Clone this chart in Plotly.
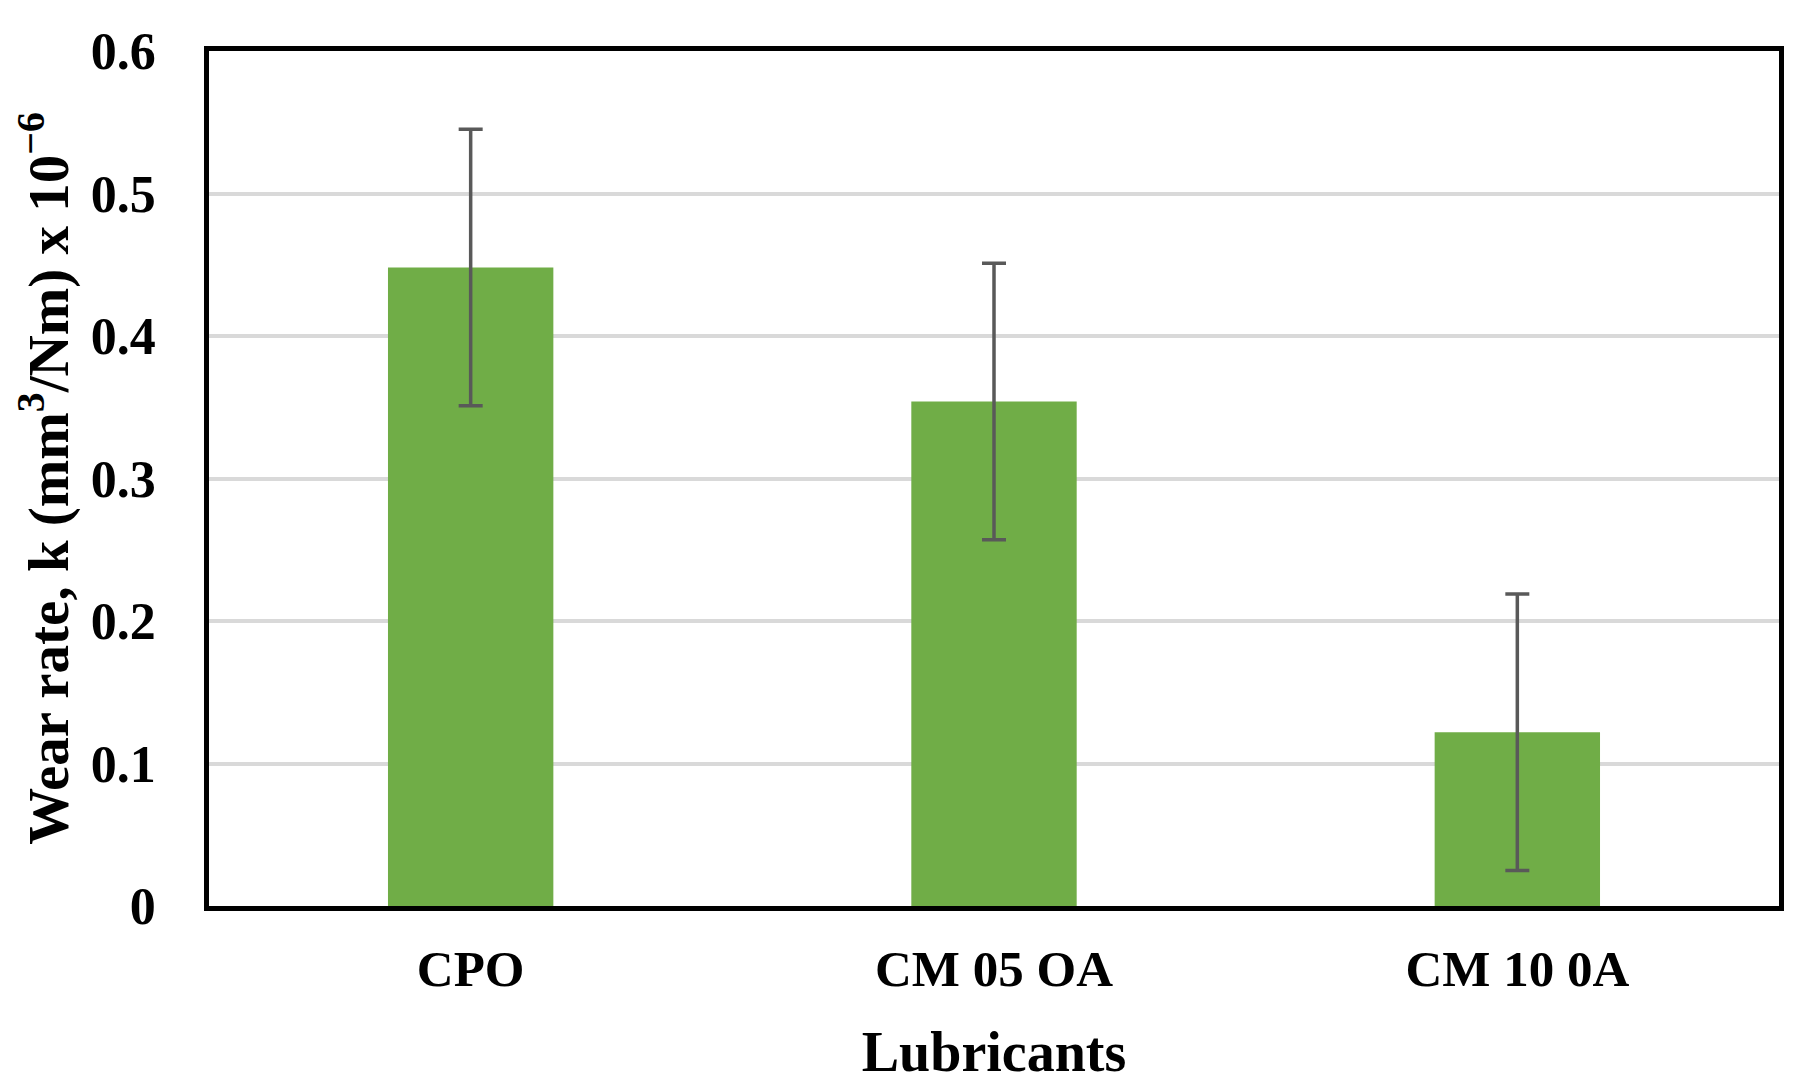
import plotly.graph_objects as go

categories = ["CPO", "CM 05 OA", "CM 10 0A"]
wear_rate = [0.448, 0.354, 0.122]
error = [0.097, 0.097, 0.097]
y_ticks = [0, 0.1, 0.2, 0.3, 0.4, 0.5, 0.6]
y_tick_labels = ["0", "0.1", "0.2", "0.3", "0.4", "0.5", "0.6"]

FONT = "Liberation Serif"

fig = go.Figure()
fig.add_trace(go.Bar(
    x=categories,
    y=wear_rate,
    marker=dict(color="#70ad47", line=dict(width=0)),
    error_y=dict(type="data", array=error, visible=True,
                 color="#595959", thickness=3.5, width=12),
))

fig.update_layout(
    width=1801, height=1092,
    margin=dict(l=201, r=30, t=43, b=194),
    paper_bgcolor="white", plot_bgcolor="white",
    bargap=0.684,
    showlegend=False,
    font=dict(family=FONT, color="black"),
)

fig.update_xaxes(
    showline=True, linecolor="black", linewidth=4.5, mirror=True,
    showgrid=False, ticks="",
    tickfont=dict(family=FONT, size=51, color="black", weight="bold"),
    ticklabelstandoff=14,
    title=dict(text="<b>Lubricants</b>", font=dict(family=FONT, size=56, color="black"), standoff=37),
)
fig.update_yaxes(
    range=[0, 0.6],
    tickmode="array", tickvals=y_ticks, ticktext=y_tick_labels,
    showline=True, linecolor="black", linewidth=4.5, mirror=True,
    showgrid=True, gridcolor="#d9d9d9", gridwidth=3.5,
    zeroline=False, ticks="",
    tickfont=dict(family=FONT, size=52, color="black", weight="bold"),
    ticklabelstandoff=38,
    title=dict(text="<b>Wear rate, k (mm<sup>3</sup>/Nm) x 10<sup>−6</sup></b>",
               font=dict(family=FONT, size=57, color="black"), standoff=22),
)

fig.write_html("out.html")
